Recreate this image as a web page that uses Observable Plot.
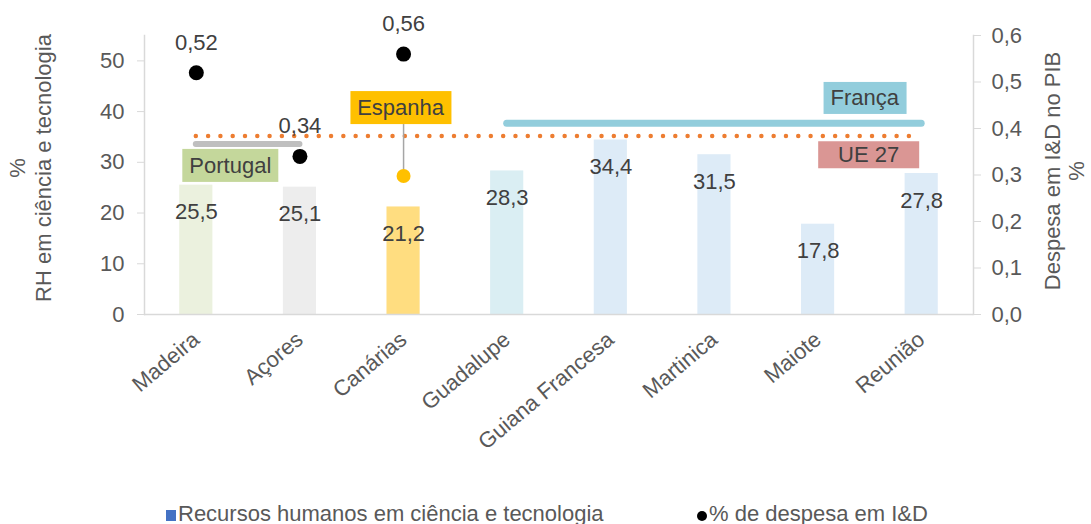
<!DOCTYPE html>
<html><head><meta charset="utf-8">
<script src="https://cdn.jsdelivr.net/npm/d3@7"></script>
<script src="https://cdn.jsdelivr.net/npm/@observablehq/plot@0.6"></script>
<style>
body{margin:0;background:#fff;font-family:"Liberation Sans",Arial,sans-serif;}
#legend{position:relative;height:24px;font-size:22px;color:#595959;white-space:nowrap;}
#legend span{position:absolute;top:2px;line-height:24px;}
</style></head><body><div id="chart"></div>
<div id="legend">
  <span style="left:166px"><i style="display:inline-block;width:10px;height:11px;background:#4472C4;margin-right:2px;vertical-align:0px"></i>Recursos humanos em ciência e tecnologia</span>
  <span style="left:697px"><i style="display:inline-block;width:10px;height:10px;border-radius:50%;background:#000;margin-right:2px;vertical-align:0px"></i>% de despesa em I&amp;D</span>
</div>
<script>
// ---- data ----
const categories = ["Madeira","Açores","Canárias","Guadalupe","Guiana Francesa","Martinica","Maiote","Reunião"];
const rhValues = [25.5,25.1,21.2,28.3,34.4,31.5,17.8,27.8];
const barColors = ["#EBF1DE","#EDEDED","#FFDD80","#DAEEF3","#DDEBF7","#DDEBF7","#DDEBF7","#DDEBF7"];
const despesaCategories = ["Madeira","Açores","Canárias"];
const despesaValues = [0.52,0.34,0.56];
const leftTicks = [0,10,20,30,40,50];
const rightTicks = [0,0.1,0.2,0.3,0.4,0.5,0.6];
const refNames = ["UE 27","Portugal","França"];
const refValues = [35.2,33.6,37.7];
const refFrom = ["Madeira","Madeira","Guadalupe"];
const refTo = ["Reunião","Açores","Reunião"];
const spainCategory = "Canárias";
const spainValue = 27.3;
const annLabels = ["Portugal","Espanha","França","UE 27"];
const annCategory = ["Madeira","Canárias","Reunião","Reunião"];
const annY = [29.3,40.7,42.6,31.4];

// ---- layout / style ----
const W = 1091, H = 500, mL = 144, mR = 118, mT = 35, mB = 186;
const yMax = 55, k = yMax / 0.6;
const pxPerUnit = (H - mT - mB) / yMax;
const padInner = 0.68;
const step = (W - mL - mR) / categories.length;
const bw = step * (1 - padInner);
const euLen = (categories.indexOf(refTo[0]) - categories.indexOf(refFrom[0])) * step;
const dotGap = euLen / Math.round(euLen / 12.3);
const annDx = [34,-3,-57,-53];
const annFill = ["#C4D79B","#FFC000","#92CDDC","#DA9694"];
const annW = [96,101,83,101], annH = [33,33,32,27];
const FS = 22;
const fmt1 = d => d.toFixed(1).replace(".", ",");
const fmt2 = d => d.toFixed(2).replace(".", ",");

const bars = categories.map((c,i)=>({cat:c, v:rhValues[i], color:barColors[i]}));
const dots = despesaCategories.map((c,i)=>({cat:c, v:despesaValues[i]*k, raw:despesaValues[i]}));
const refs = refNames.map((n,i)=>({name:n, v:refValues[i], from:refFrom[i], to:refTo[i]}));
const spainIdx = annLabels.indexOf("Espanha");
const spainTop = annY[spainIdx] - (annH[spainIdx]/2)/pxPerUnit;

const annMarks = annLabels.map((l,i) =>
  Plot.text([l], {x: () => annCategory[i], y: () => annY[i], dx: annDx[i], text: d => d, fill: "#404040", className: "ann"}));

const plot = Plot.plot({
  width: W, height: H, marginLeft: mL, marginRight: mR, marginTop: mT, marginBottom: mB,
  style: {fontFamily: '"Liberation Sans", Arial, sans-serif', fontSize: FS + "px", color: "#595959", background: "#fff"},
  x: {type: "band", domain: categories, paddingInner: padInner, paddingOuter: padInner/2, round: false},
  y: {domain: [0, yMax]},
  marks: [
    Plot.barY(bars, {x: "cat", y: "v", fill: "color"}),
    Plot.frame({anchor: "left", stroke: "#D9D9D9", strokeWidth: 1.5}),
    Plot.frame({anchor: "right", stroke: "#D9D9D9", strokeWidth: 1.5}),
    Plot.ruleY([0], {stroke: "#D9D9D9", strokeWidth: 1.5}),
    Plot.axisY({anchor: "left", ticks: leftTicks, tickSize: 7, tickPadding: 13, stroke: "#D9D9D9", fill: "#595959", label: null}),
    Plot.axisY({anchor: "right", ticks: rightTicks.map(v => v*k), tickFormat: d => fmt1(d/k), tickSize: 7, tickPadding: 11, stroke: "#D9D9D9", fill: "#595959", label: null}),
    Plot.axisX({tickRotate: -40, tickSize: 0, tickPadding: 22, fill: "#595959", label: null}),
    Plot.text(bars, {x: "cat", y: "v", text: d => fmt1(d.v), dy: 27, fill: "#404040"}),
    Plot.ruleY(refs.filter(d => d.name !== "UE 27"), {x1: "from", x2: "to", y: "v", insetLeft: bw/2, insetRight: bw/2,
      stroke: d => d.name === "França" ? "#92CDDC" : "#BFBFBF", strokeWidth: d => d.name === "França" ? 7 : 6, strokeLinecap: "round"}),
    Plot.ruleY(refs.filter(d => d.name === "UE 27"), {x1: "from", x2: "to", y: "v", insetLeft: bw/2, insetRight: bw/2,
      stroke: "#ED7D31", strokeWidth: 4.5, strokeLinecap: "round", strokeDasharray: `0,${dotGap}`}),
    Plot.ruleX([spainValue], {x: () => spainCategory, y1: spainValue, y2: spainTop, stroke: "#A6A6A6", strokeWidth: 1.5}),
    Plot.dot([spainValue], {x: () => spainCategory, y: d => d, r: 7, fill: "#FFC000"}),
    Plot.dot(dots, {x: "cat", y: "v", r: 7.5, fill: "#000"}),
    Plot.text(dots, {x: "cat", y: "v", text: d => fmt2(d.raw), dy: -30, fill: "#404040"}),
    ...annMarks,
    Plot.text(["%\nRH em ciência e tecnologia"], {frameAnchor: "left", textAnchor: "middle", rotate: -90, dx: -115, dy: -7, fill: "#595959", lineHeight: 1.18}),
    Plot.text(["Despesa em I&D no PIB\n%"], {frameAnchor: "right", textAnchor: "middle", rotate: -90, dx: 91, dy: -4, fill: "#595959", lineHeight: 1.1})
  ]
});
document.getElementById("chart").appendChild(plot);

// annotation boxes behind annotation labels
const svgRect = plot.getBoundingClientRect();
const annTexts = plot.querySelectorAll("g.ann text");
if (annTexts.length) {
  const boxes = d3.create("svg:g");
  annTexts.forEach((t, i) => {
    const r = t.getBoundingClientRect();
    const cx = r.x + r.width/2 - svgRect.x, cy = r.y + r.height/2 - svgRect.y;
    boxes.append("rect").attr("x", cx - annW[i]/2).attr("y", cy - annH[i]/2)
      .attr("width", annW[i]).attr("height", annH[i]).attr("fill", annFill[i]);
  });
  const first = plot.querySelector("g.ann");
  first.parentNode.insertBefore(boxes.node(), first);
}
</script></body></html>
